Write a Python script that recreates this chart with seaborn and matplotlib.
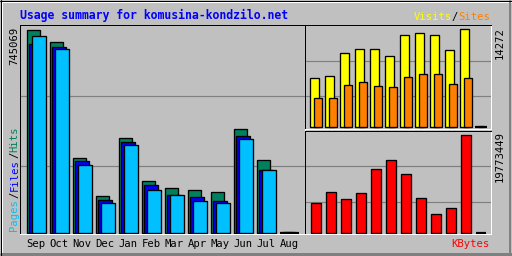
import matplotlib
matplotlib.use("Agg")
import matplotlib.pyplot as plt
import seaborn as sns
import pandas as pd
from matplotlib.lines import Line2D

# ---------------- data ----------------
months = ["Sep", "Oct", "Nov", "Dec", "Jan", "Feb", "Mar", "Apr", "May", "Jun", "Jul", "Aug"]
hits   = [745069, 701110, 272700, 133370, 347200, 187760, 162430, 154970, 147520, 379990, 265250, 0]
files  = [693660, 682480, 261520, 118460, 332300, 173600, 137090, 129640, 114740, 353160, 228740, 0]
pages  = [719740, 672050, 246620, 107290, 320380, 154970, 137090, 114740, 107290, 341980, 228740, 0]
visits = [7136, 7421, 10775, 11360, 11360, 10333, 13401, 13830, 13401, 11218, 14272, 0]
sites  = [4224, 4224, 6123, 6551, 5966, 5823, 7279, 7721, 7721, 6265, 7136, 0]
kbytes = [5852940, 8265300, 6663650, 8067570, 12773650, 14592800, 11705880, 6861390,
          3638310, 5042230, 19773449, 0]
title = "Usage summary for komusina-kondzilo.net"

# ---------------- style ----------------
BG = "#C0C0C0"
GRID = "#808080"
C_HITS, C_FILES, C_PAGES = "#00805C", "#0000FF", "#00C0FF"
C_VISITS, C_SITES, C_KB = "#FFFF00", "#FF8000", "#FF0000"
MONO = ["DejaVu Sans Mono"]

sns.set_theme(style="white")
plt.rcParams["font.family"] = MONO

W, H = 512, 256
fig = plt.figure(figsize=(W / 100, H / 100), dpi=100, facecolor=BG)
PX = 0.72  # one pixel in points


def fx(x):
    return x / W


def fy(y):
    return 1 - y / H


def add_axes(x0, x1, top, bottom):
    ax = fig.add_axes([fx(x0), fy(bottom), (x1 - x0) / W, (bottom - top) / H])
    ax.set_facecolor(BG)
    for s in ["top", "left"]:
        ax.spines[s].set_color("black")
        ax.spines[s].set_linewidth(PX)
    for s in ["bottom", "right"]:
        ax.spines[s].set_color("white")
        ax.spines[s].set_linewidth(PX)
    return ax


def bars(ax, offset, width, values, color):
    df = pd.DataFrame({"x": [i + offset for i in range(len(values))], "y": values})
    sns.barplot(data=df, x="x", y="y", native_scale=True, width=width, color=color,
                saturation=1, edgecolor="black", linewidth=0.95, errorbar=None, ax=ax)


def finish(ax, top, height_px, x0, ncols):
    # baseline sits ~1.5 px above the bottom frame line
    ax.set_ylim(-top * 1.5 / height_px, top)
    ax.set_xlim(x0, x0 + ncols)
    ax.set_xticks([])
    ax.set_yticks([])
    ax.set_xlabel("")
    ax.set_ylabel("")
    for p in ax.patches:
        if p.get_height() == 0:
            p.set_linewidth(1.6)


def grid(ax, fracs):
    for f in fracs:
        ax.plot([0, 1], [f, f], transform=ax.transAxes, color=GRID, lw=1.2 * PX, zorder=0.5)


idx = list(range(len(months)))

# ---------------- left panel: hits / files / pages ----------------
axL = add_axes(20, 305, 25, 234)
grid(axL, [0.327, 0.66])
bars(axL, 0.29, 0.58, hits, C_HITS)
bars(axL, 0.406, 0.58, files, C_FILES)
bars(axL, 0.536, 0.58, pages, C_PAGES)
finish(axL, max(hits) * 1.0226, 208, -0.291, 285 / 23)

# ---------------- top right: visits / sites ----------------
axV = add_axes(305, 491, 25, 128.6)
grid(axV, [0.31, 0.656])
bars(axV, 0.278, 0.556, visits, C_VISITS)
bars(axV, 0.522, 0.511, sites, C_SITES)
finish(axV, max(visits) * 1.046, 102, -0.355, 186 / 15)

# ---------------- bottom right: kbytes ----------------
axK = add_axes(305, 491, 130.5, 234)
grid(axK, [0.31, 0.656])
bars(axK, 0.375, 0.62, kbytes, C_KB)
finish(axK, max(kbytes) * 1.041, 102, -0.355, 186 / 15)

# ---------------- month labels ----------------
for i, m in zip(idx, months):
    axL.text(i + 0.41, -0.025, m, transform=axL.get_xaxis_transform(), ha="center",
             va="top", fontsize=7.6, color="black", family=MONO)

# ---------------- texts ----------------
fig.text(fx(20), fy(15.5), title, color="#0000FF", fontsize=8.3, fontweight="bold",
         ha="left", va="center", family=MONO)

# Visits / Sites (right aligned)
ts = dict(fontsize=7.6, va="center", family=MONO)
fig.text(fx(490), fy(17), "Sites", color=C_SITES, ha="right", **ts)
fig.text(fx(490 - 5 * 6.35), fy(17), "/", color="black", ha="right", **ts)
fig.text(fx(490 - 6 * 6.35), fy(17), "Visits", color=C_VISITS, ha="right", **ts)

fig.text(fx(490), fy(244), "KBytes", color=C_KB, ha="right", **ts)

# left rotated labels
rs = dict(fontsize=7.6, rotation=90, ha="center", family=MONO)
fig.text(fx(14.5), fy(231), "Pages", color=C_PAGES, va="bottom", **rs)
fig.text(fx(14.5), fy(231 - 5 * 6.6), "/", color="black", va="bottom", **rs)
fig.text(fx(14.5), fy(231 - 6 * 6.6), "Files", color=C_FILES, va="bottom", **rs)
fig.text(fx(14.5), fy(231 - 11 * 6.6), "/", color="black", va="bottom", **rs)
fig.text(fx(14.5), fy(231 - 12 * 6.6), "Hits", color=C_HITS, va="bottom", **rs)

fig.text(fx(14.5), fy(27), f"{max(hits)}", color="black", va="top", **rs)
fig.text(fx(500), fy(27), f"{max(visits)}", color="black", va="top", **rs)
fig.text(fx(500), fy(131), f"{max(kbytes)}", color="black", va="top", **rs)

# ---------------- outer bevel border ----------------
def hline(y, x0, x1, color, lw=PX):
    fig.add_artist(Line2D([fx(x0), fx(x1)], [fy(y), fy(y)], color=color, lw=lw,
                          transform=fig.transFigure))


def vline(x, y0, y1, color, lw=PX):
    fig.add_artist(Line2D([fx(x), fx(x)], [fy(y0), fy(y1)], color=color, lw=lw,
                          transform=fig.transFigure))

hline(1.5, 1, 511, "white")
vline(1.5, 1, 254, "white")
hline(253.5, 1, 511, GRID, lw=3 * PX)
vline(509.5, 1, 255, GRID, lw=2 * PX)
hline(0.5, 0, 512, "black")
hline(255.5, 0, 512, "black")
vline(0.5, 0, 256, "black")
vline(511.5, 0, 256, "black")

fig.savefig("out.png", dpi=100, facecolor=BG)
